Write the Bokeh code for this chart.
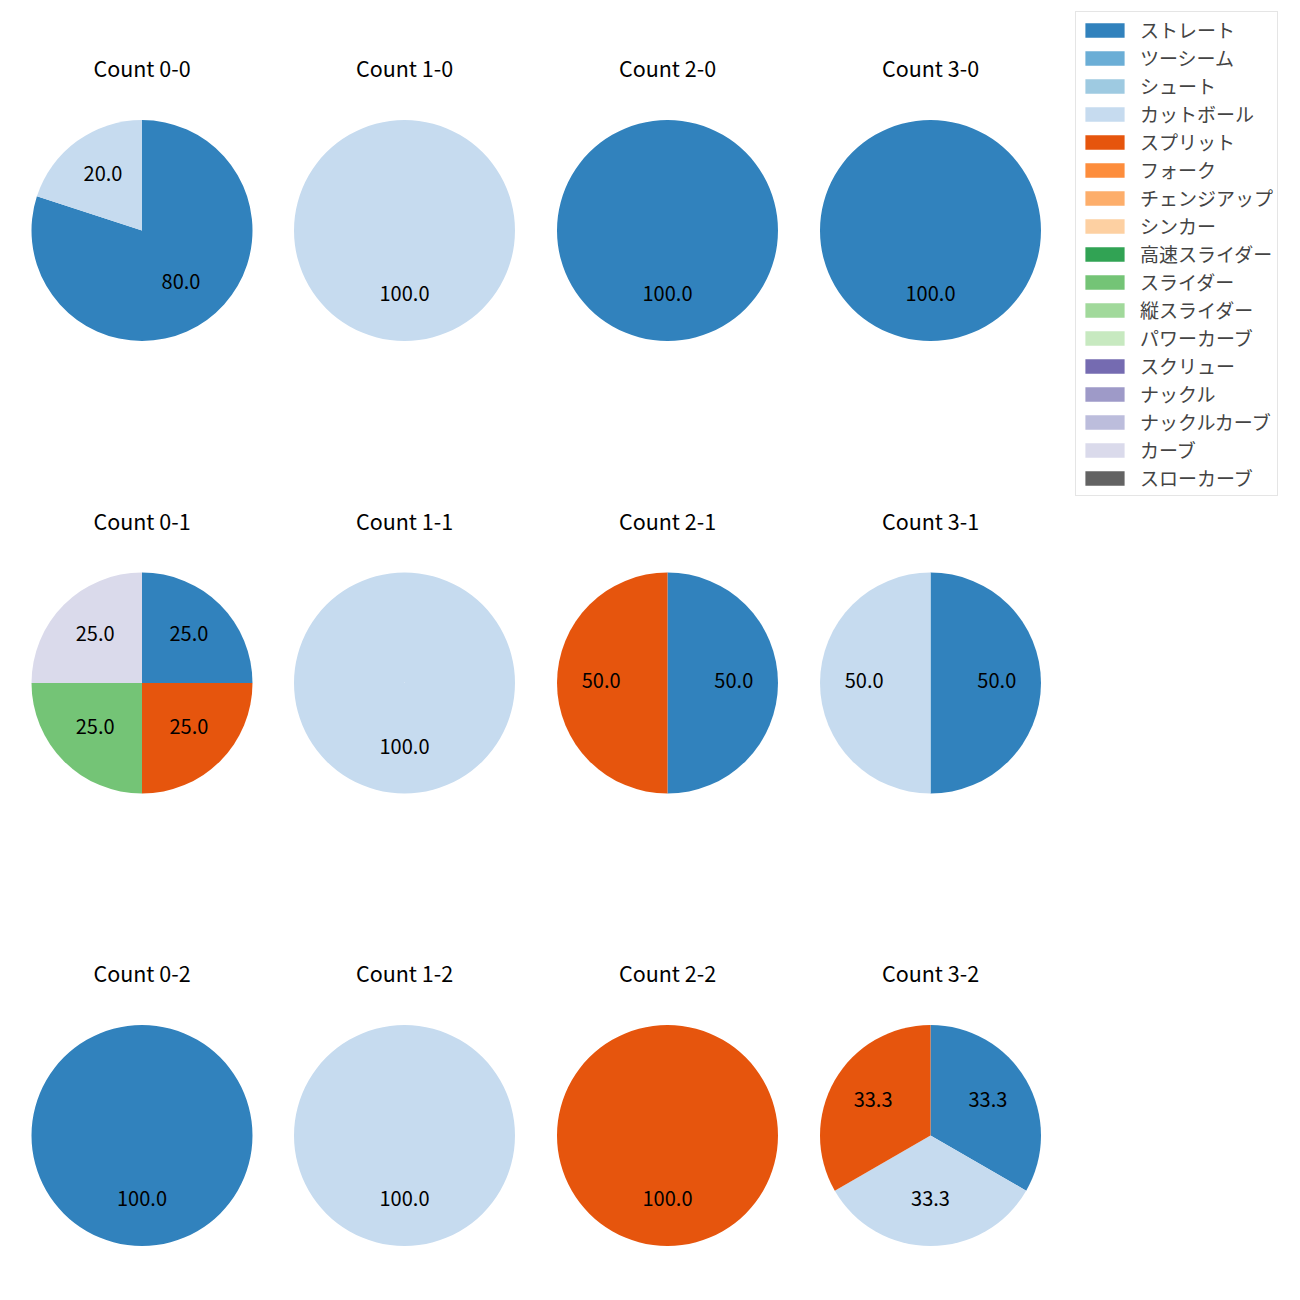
from bokeh.plotting import figure
from bokeh.models import ColumnDataSource, Range1d, Legend, LegendItem
from bokeh.core.properties import value
from bokeh.embed import file_html
from bokeh.resources import INLINE
import math

# ---- data ----
pitch_types = ["ストレート", "ツーシーム", "シュート", "カットボール", "スプリット", "フォーク",
               "チェンジアップ", "シンカー", "高速スライダー", "スライダー", "縦スライダー",
               "パワーカーブ", "スクリュー", "ナックル", "ナックルカーブ", "カーブ", "スローカーブ"]
colors = ["#3182bd", "#6baed6", "#9ecae1", "#c6dbef", "#e6550d", "#fd8d3c", "#fdae6b", "#fdd0a2",
          "#31a354", "#74c476", "#a1d99b", "#c7e9c0", "#756bb1", "#9e9ac8", "#bcbddc", "#dadaeb",
          "#636363"]

balls = [0, 1, 2, 3, 0, 1, 2, 3, 0, 1, 2, 3]
strikes = [0, 0, 0, 0, 1, 1, 1, 1, 2, 2, 2, 2]
pie_types = [
    ["ストレート", "カットボール"],
    ["カットボール"],
    ["ストレート"],
    ["ストレート"],
    ["ストレート", "スプリット", "スライダー", "カーブ"],
    ["カットボール"],
    ["ストレート", "スプリット"],
    ["ストレート", "カットボール"],
    ["ストレート"],
    ["カットボール"],
    ["スプリット"],
    ["ストレート", "カットボール", "スプリット"],
]
pie_values = [
    [80.0, 20.0],
    [100.0],
    [100.0],
    [100.0],
    [25.0, 25.0, 25.0, 25.0],
    [100.0],
    [50.0, 50.0],
    [50.0, 50.0],
    [100.0],
    [100.0],
    [100.0],
    [33.3, 33.3, 33.3],
]

# ---- layout (page pixels) ----
W = H = 1284
col_x = [141.5, 404.0, 667.0, 930.0]
row_y = [230.0, 682.5, 1135.0]
R = 110.5
TITLE_DY = 163.0
LABEL_SHIFT = 3.0
FONT = "Noto Sans CJK JP"
EPS = 1e-4


def Y(page_y):
    return H - page_y


p = figure(width=W, height=H, output_backend="svg", toolbar_location=None,
           x_range=Range1d(0, W), y_range=Range1d(0, H), min_border=0)
p.axis.visible = False
p.grid.visible = False
p.outline_line_color = None
p.background_fill_color = "white"

# gather wedges by pitch type (first row of each is an invisible zero-size swatch holder)
wedges = {t: dict(x=[0.0], y=[0.0], r=[0.0], s=[0.0], e=[0.1]) for t in pitch_types}
lab = dict(x=[], y=[], text=[])
ttl = dict(x=[], y=[], text=[])
for b, s, types, vals in zip(balls, strikes, pie_types, pie_values):
    cx, cy = col_x[b], Y(row_y[s])
    total = sum(vals)
    cum = 0.0
    for t, v in zip(types, vals):
        f0 = cum / total
        f1 = (cum + v) / total
        cum += v
        a_start = math.pi / 2 - 2 * math.pi * f1
        a_end = math.pi / 2 - 2 * math.pi * f0
        if f1 - f0 > 0.9999:
            a_start += EPS
        d = wedges[t]
        d["x"].append(cx); d["y"].append(cy); d["r"].append(R)
        d["s"].append(a_start); d["e"].append(a_end)
        mid = (a_start + a_end) / 2
        lab["x"].append(cx + 0.6 * R * math.cos(mid))
        lab["y"].append(cy + 0.6 * R * math.sin(mid) + LABEL_SHIFT)
        lab["text"].append(f"{v / total * 100:.1f}")
    ttl["x"].append(cx)
    ttl["y"].append(Y(row_y[s] - TITLE_DY))
    ttl["text"].append(f"Count {b}-{s}")

items = []
for t, c in zip(pitch_types, colors):
    d = wedges[t]
    r = p.wedge(x="x", y="y", radius="r", start_angle="s", end_angle="e", direction="anticlock",
                source=ColumnDataSource(d), fill_color=c, line_color=None)
    items.append(LegendItem(label=t, renderers=[r]))

p.text(x="x", y="y", text="text", source=ColumnDataSource(lab), text_align="center",
       text_baseline="middle", text_font=value(FONT), text_font_size="20px", text_color="black")
p.text(x="x", y="y", text="text", source=ColumnDataSource(ttl), text_align="center",
       text_baseline="middle", text_font=value(FONT), text_font_size="21.5px", text_color="black")

LEG_TOP = 13
LEG_H = 17 * 27 + 16 * 1 + 2 * 4
legend = Legend(items=items, location=(1075, H - LEG_TOP - LEG_H), orientation="vertical",
                glyph_width=49, glyph_height=18, label_height=27, spacing=1, padding=4,
                label_standoff=11, label_text_font=FONT, label_text_font_size="19px",
                border_line_color="#cccccc", border_line_width=1,
                background_fill_color="white", background_fill_alpha=0.8,
                margin=0)
p.add_layout(legend, "center")

open("out.html", "w").write(file_html(p, INLINE))
